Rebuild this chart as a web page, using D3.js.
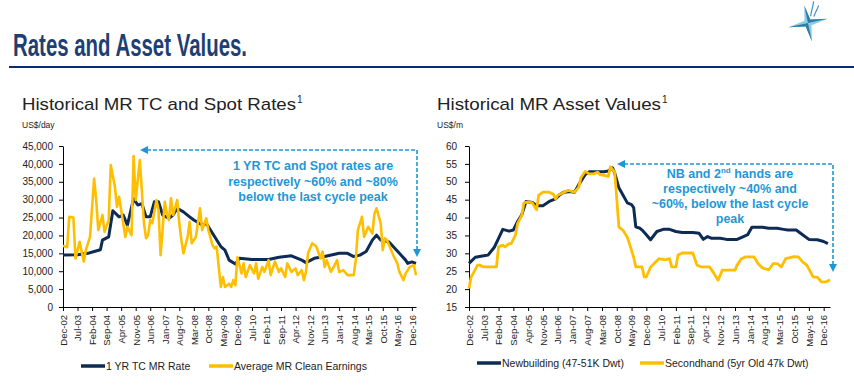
<!DOCTYPE html>
<html>
<head>
<meta charset="utf-8">
<script src="https://cdn.jsdelivr.net/npm/d3@7"></script>
<style>
  body { margin: 0; background: #fff; }
  svg { display: block; font-family: "Liberation Sans", Arial, sans-serif; }
</style>
</head>
<body>
<svg id="chart" width="854" height="390"></svg>
<script>
// tick labels on both x axes (one every 7 months from Dec-02)
const dateLabels = ["Dec-02","Jul-03","Feb-04","Sep-04","Apr-05","Nov-05","Jun-06","Jan-07",
  "Aug-07","Mar-08","Oct-08","May-09","Dec-09","Jul-10","Feb-11","Sep-11","Apr-12","Nov-12",
  "Jun-13","Jan-14","Aug-14","Mar-15","Oct-15","May-16","Dec-16"];
const leftTicks = [0, 5000, 10000, 15000, 20000, 25000, 30000, 35000, 40000, 45000];
const rightTicks = [15, 20, 25, 30, 35, 40, 45, 50, 55, 60];

// month offsets are counted from Dec-02
// 1 YR TC MR Rate (US$/day)
const tcMonths = [0,7,12,15,18,19,22,24,27,29,31,34,36,38,40,42,44,46,48,51,53,55,58,61,63,67,69,72,76,78,80,83,85,91,99,104,110,115,117,121,126,133,137,140,143,146,149,151,153,157,159,162,165,166,168,170];
const tcRate = [14500,14600,15000,15500,16000,18700,19600,26900,25200,25700,22900,30300,28500,28900,25200,25200,29400,29400,25700,24800,25700,27600,26600,25200,24300,22900,23400,20600,16900,15900,13100,12000,13600,13300,13300,13900,14300,13100,12400,13600,14100,15000,15000,14100,14500,15500,18700,20100,18700,18200,16900,15000,13100,12200,12600,12200];

// Average MR Clean Earnings (US$/day)
const spotMonths = [0,2,3,5,6,8,10,11,13,15,16,17,19,20,22,23,25,26,27,29,30,31,33,34,35,37,39,40,41,42,43,45,46,47,49,50,51,52,53,55,56,57,58,60,61,62,64,66,67,69,70,72,73,74,76,77,78,80,81,82,83,84,86,87,88,90,92,93,94,96,97,99,100,102,104,105,107,108,110,112,113,115,116,117,118,120,122,124,125,126,127,129,130,132,133,135,137,140,141,142,144,145,147,149,150,151,153,154,155,156,158,159,161,162,164,165,167,169,170];
const spotRate = [17100,16700,25200,25000,13600,18200,12700,15900,19600,35900,29800,21500,25700,21000,24300,39700,33600,28000,30800,23400,19600,22400,20100,42200,29900,41100,23400,19200,20100,24300,23400,29900,27100,14500,29400,26100,24300,30400,25700,29900,23400,18700,15000,19600,23800,17800,19600,27600,21500,24800,21500,17300,16400,16900,5600,8400,5600,6500,5600,7500,6100,13900,9400,12200,8400,11700,9400,12200,7900,11200,9800,13100,8900,12700,9800,10800,8400,12200,9800,10800,8900,10300,7500,9800,15000,17800,16900,13600,15500,11200,13100,9800,10800,13100,9800,10300,8900,8900,13100,21500,25200,19600,22400,20500,26100,27600,23400,15900,19200,18700,15900,14500,12200,9800,7500,9400,11200,11700,8900];

// Newbuilding (47-51K Dwt), US$m
const nbMonths = [0,3,7,9,12,14,16,19,21,23,25,27,30,32,35,38,41,43,45,48,50,52,55,57,60,64,66,68,69,71,72,75,77,78,79,81,82,84,86,89,92,95,98,101,106,109,111,113,115,119,122,127,130,132,134,136,139,142,146,149,151,155,158,161,165,168,170];
const nbValue = [27.2,28.9,29.3,29.5,31.7,34.2,36.7,36.2,36.5,38.9,40.8,44.5,44.2,43.3,43.3,44.5,45.2,46.4,47.1,47.3,47.1,49.2,52.0,52.8,52.8,52.8,53.0,53.9,52.5,48.3,47.3,44.1,43.6,42.8,37.4,37.0,36.5,35.2,33.8,36.1,36.7,36.7,36.1,35.8,35.8,35.6,33.9,34.7,34.2,34.2,33.9,33.9,34.7,35.2,37.3,37.3,37.3,37.0,37.0,36.7,36.5,36.5,35.2,33.9,33.8,33.3,32.7];

// Secondhand (5yr Old 47k Dwt), US$m
const shMonths = [0,1,2,4,5,7,13,14,16,17,19,20,22,23,25,26,28,30,32,33,35,38,40,41,42,45,47,50,52,53,55,57,59,61,62,64,66,67,69,70,71,73,75,76,78,79,82,83,84,86,90,93,95,96,98,99,101,106,108,110,114,116,118,120,126,127,129,131,135,137,139,142,144,146,148,150,154,156,158,160,163,165,167,169,171];
const shValue = [20.2,23.4,24.4,26.7,26.7,26.2,26.2,31.8,32.3,31.8,32.7,32.7,35.1,38.3,40.6,44.1,44.4,44.1,42.2,46.2,47.1,47.1,46.5,45.2,46.2,47.1,47.6,47.1,48.5,51.1,52.9,52.2,52.2,52.7,52.0,51.8,51.5,54.2,52.7,45.2,37.3,36.4,34.5,32.7,28.9,26.2,26.2,23.4,23.4,26.2,28.5,28.2,28.5,26.2,26.2,29.5,30.1,30.1,26.7,26.2,26.2,24.4,22.5,25.3,25.3,26.7,28.5,29.0,29.0,27.1,25.9,25.4,27.1,27.1,26.2,28.5,29.1,29.0,27.6,26.7,23.4,23.3,22.0,22.0,22.6];

const navy = "#0d2b55";
const gold = "#ffbf00";
const noteBlue = "#1f97d6";

const svg = d3.select("#chart");

// page title and rule
svg.append("text")
    .attr("x", 13).attr("y", 56)
    .attr("font-size", 32).attr("font-weight", "bold")
    .attr("fill", "#1f3f74")
    .attr("textLength", 234).attr("lengthAdjust", "spacingAndGlyphs")
    .text("Rates and Asset Values.");

svg.append("line")
    .attr("x1", 9).attr("x2", 854).attr("y1", 67).attr("y2", 67)
    .attr("stroke", "#0b2a72").attr("stroke-width", 2);

// little compass star logo top right
const logo = svg.append("g").attr("transform", "translate(808,23) rotate(-12)");
logo.append("path")
    .attr("d", "M0,-18 L3,-3 L20,0 L3,3 L0,19 L-3,3 L-20,0 L-3,-3 Z")
    .attr("fill", "#8fcde3");
logo.append("path")
    .attr("d", "M0,-18 L3,-3 L20,0 L0,0 Z M0,19 L-3,3 L-20,0 L0,0 Z")
    .attr("fill", "#2c7ea6");
logo.append("path")
    .attr("d", "M4,-6 C6,-12 8,-14 10,-20 M7,-5 C10,-10 12,-11 14,-15")
    .attr("stroke", "#3a95c2").attr("stroke-width", 1.2).attr("fill", "none");

function drawPanel(p) {
    const g = svg.append("g");

    // section title, squeezed to the width it has in the slide, then the superscript 1
    g.append("text")
        .attr("x", p.titleX).attr("y", 110)
        .attr("font-size", 17).attr("fill", "#222")
        .attr("textLength", p.titleW).attr("lengthAdjust", "spacingAndGlyphs")
        .text(p.title);
    g.append("text")
        .attr("x", p.titleX + p.titleW + 1).attr("y", 103)
        .attr("font-size", 10).attr("fill", "#222")
        .text("1");

    g.append("text")
        .attr("x", p.titleX).attr("y", 128)
        .attr("font-size", 8.5).attr("fill", "#222")
        .text(p.unit);

    const x = d3.scaleLinear().domain([0, p.lastMonth]).range([p.left, p.right]);
    const y = d3.scaleLinear().domain(p.yDomain).range([307, 146]);

    // y axis
    const yAxis = g.append("g")
        .attr("transform", `translate(${p.left},0)`)
        .call(d3.axisLeft(y).tickValues(p.yTicks).tickSize(4).tickSizeOuter(0)
            .tickPadding(p.yPad).tickFormat(p.yFormat));
    yAxis.selectAll("text").attr("font-size", 10).attr("fill", "#222")
        .attr("font-family", "'Liberation Sans', Arial, sans-serif");

    // x axis with rotated month labels
    const xAxis = g.append("g")
        .attr("transform", "translate(0,307)")
        .call(d3.axisBottom(x).tickValues(d3.range(0, 169, 7)).tickSize(4).tickSizeOuter(0)
            .tickFormat((d, i) => dateLabels[i]));
    xAxis.selectAll("text")
        .attr("transform", "rotate(-90)")
        .attr("x", -8).attr("y", 0).attr("dy", "0.35em")
        .attr("text-anchor", "end")
        .attr("font-size", 9.5).attr("fill", "#222")
        .attr("font-family", "'Liberation Sans', Arial, sans-serif");
    g.selectAll(".domain, .tick line").attr("stroke", "#000");

    // the two series, navy first then gold on top
    const line = d3.line().x(d => x(d[0])).y(d => y(d[1])).curve(d3.curveLinear);
    p.series.forEach(s => {
        g.append("path")
            .datum(d3.zip(s.months, s.values))
            .attr("fill", "none")
            .attr("stroke", s.color)
            .attr("stroke-width", s.width)
            .attr("stroke-linejoin", "round")
            .attr("d", line);
    });

    // legend under the axis labels
    p.series.forEach((s, i) => {
        const lx = p.legendX[i];
        g.append("line")
            .attr("x1", lx).attr("x2", lx + 24).attr("y1", p.legendY).attr("y2", p.legendY)
            .attr("stroke", s.color).attr("stroke-width", 3.5);
        g.append("text")
            .attr("x", lx + 25).attr("y", p.legendY + 3.5)
            .attr("font-size", 10.5).attr("fill", "#222")
            .text(s.name);
    });

    // dashed call-out arrow and note
    const a = p.arrow;
    g.append("path")
        .attr("d", `M${a.x0 + 7},${a.y0} H${a.x1} V${a.y1 - 7}`)
        .attr("fill", "none").attr("stroke", noteBlue)
        .attr("stroke-width", 1.6).attr("stroke-dasharray", "4,2");
    g.append("path")
        .attr("d", `M${a.x0},${a.y0} l8,-4 v8 Z`)
        .attr("fill", noteBlue);
    g.append("path")
        .attr("d", `M${a.x1},${a.y1} l-4,-8 h8 Z`)
        .attr("fill", noteBlue);

    const note = g.append("text")
        .attr("font-size", 12.5).attr("font-weight", "bold")
        .attr("fill", noteBlue).attr("text-anchor", "middle");
    p.note.forEach((ln, i) => {
        const ts = note.append("tspan").attr("x", p.noteX).attr("y", p.noteY + i * p.noteGap);
        let back = 0;
        ln.forEach(part => {
            // objects hold a raised piece of text (the "nd" of 2nd)
            if (typeof part === "object") {
                ts.append("tspan").attr("font-size", 8).attr("dy", -5).text(part.raised);
                back = 5;
            } else {
                ts.append("tspan").attr("dy", back).text(part);
                back = 0;
            }
        });
    });
}

drawPanel({
    title: "Historical MR TC and Spot Rates", unit: "US$/day", titleX: 22, titleW: 274,
    left: 63, right: 416, lastMonth: 170,
    yDomain: [0, 45000], yTicks: leftTicks, yFormat: d3.format(","), yPad: 6,
    series: [
        { name: "1 YR TC MR Rate", months: tcMonths, values: tcRate, color: navy, width: 3 },
        { name: "Average MR Clean Earnings", months: spotMonths, values: spotRate, color: gold, width: 2.6 }
    ],
    legendX: [81, 209], legendY: 366,
    arrow: { x0: 140, y0: 150, x1: 417, y1: 257 },
    note: [["1 YR TC and Spot rates are"], ["respectively ~60% and ~80%"], ["below the last cycle peak"]],
    noteX: 313, noteY: 170, noteGap: 15.5
});

drawPanel({
    title: "Historical MR Asset Values", unit: "US$/m", titleX: 437, titleW: 224,
    left: 469, right: 830, lastMonth: 171,
    yDomain: [15, 60], yTicks: rightTicks, yFormat: d3.format("d"), yPad: 8,
    series: [
        { name: "Newbuilding (47-51K Dwt)", months: nbMonths, values: nbValue, color: navy, width: 3 },
        { name: "Secondhand (5yr Old 47k Dwt)", months: shMonths, values: shValue, color: gold, width: 2.8 }
    ],
    legendX: [477, 640], legendY: 363,
    arrow: { x0: 617, y0: 164, x1: 833, y1: 272 },
    note: [["NB and 2", { raised: "nd" }, " hands are"], ["respectively ~40% and"], ["~60%, below the last cycle"], ["peak"]],
    noteX: 730, noteY: 177.5, noteGap: 15.3
});
</script>
</body>
</html>
